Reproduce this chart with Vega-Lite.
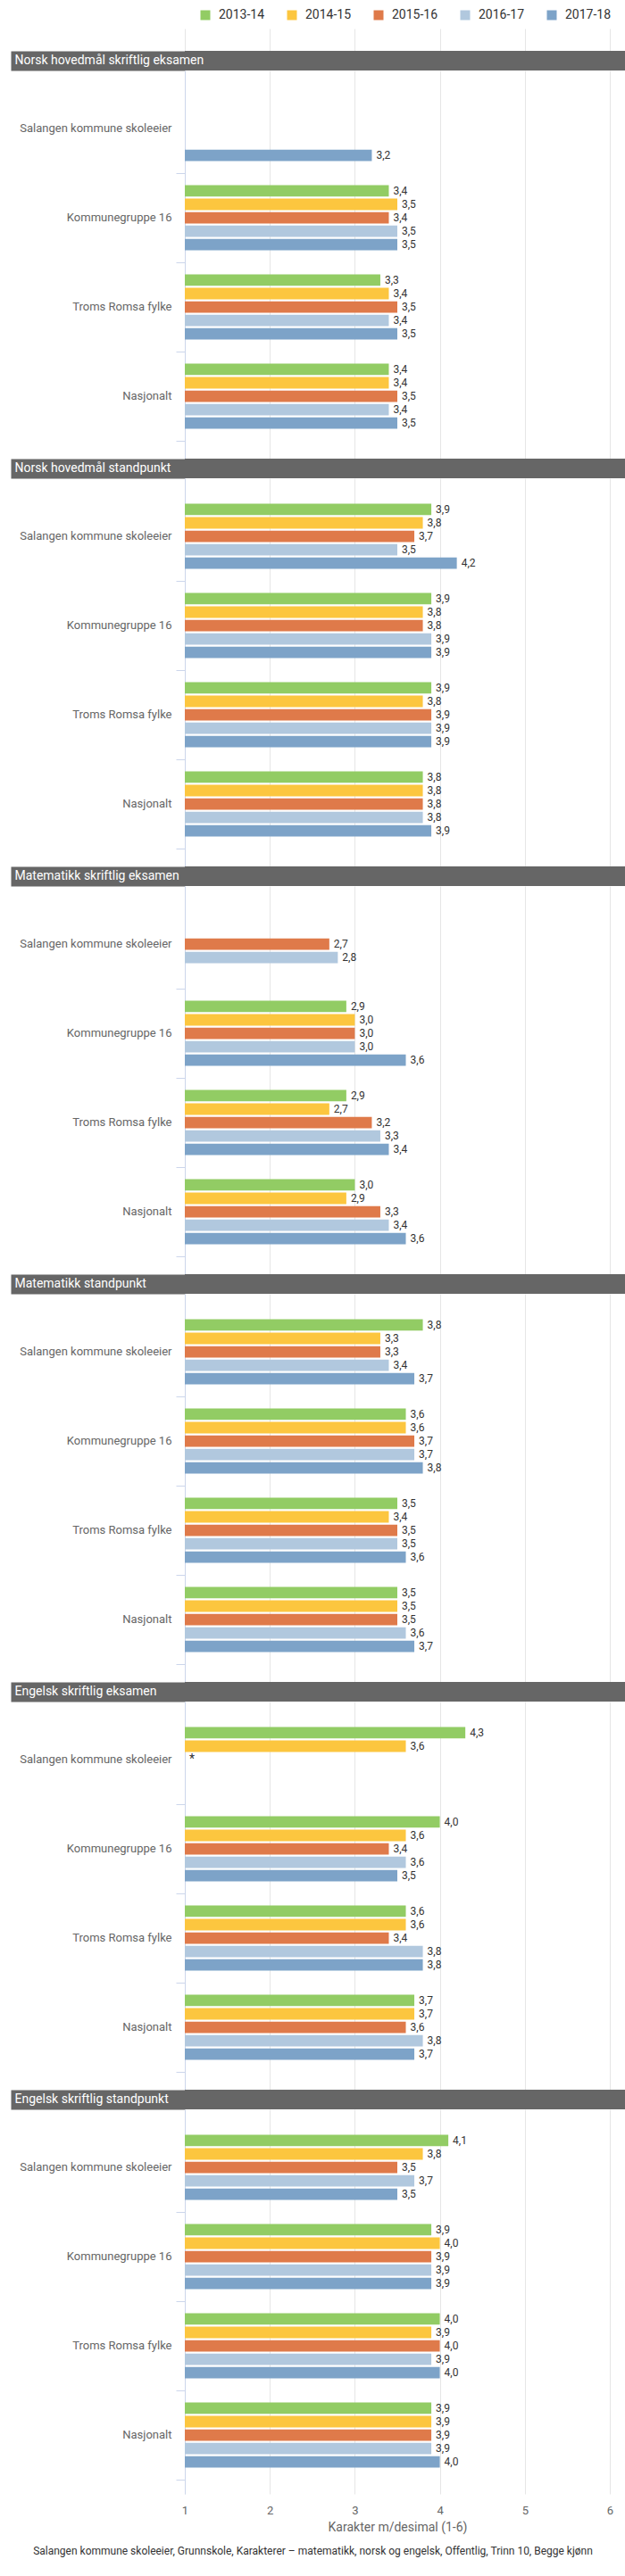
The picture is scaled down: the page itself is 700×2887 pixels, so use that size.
{
  "$schema": "https://vega.github.io/schema/vega-lite/v6.json",
  "padding": {"left": 1, "top": 10, "right": 0, "bottom": 8},
  "spacing": 0,
  "datasets": {
    "grades": [
      {"section": "Norsk hovedmål skriftlig eksamen", "group": "Salangen kommune skoleeier", "year": "2017-18", "value": 3.2},
      {"section": "Norsk hovedmål skriftlig eksamen", "group": "Kommunegruppe 16", "year": "2013-14", "value": 3.4},
      {"section": "Norsk hovedmål skriftlig eksamen", "group": "Kommunegruppe 16", "year": "2014-15", "value": 3.5},
      {"section": "Norsk hovedmål skriftlig eksamen", "group": "Kommunegruppe 16", "year": "2015-16", "value": 3.4},
      {"section": "Norsk hovedmål skriftlig eksamen", "group": "Kommunegruppe 16", "year": "2016-17", "value": 3.5},
      {"section": "Norsk hovedmål skriftlig eksamen", "group": "Kommunegruppe 16", "year": "2017-18", "value": 3.5},
      {"section": "Norsk hovedmål skriftlig eksamen", "group": "Troms Romsa fylke", "year": "2013-14", "value": 3.3},
      {"section": "Norsk hovedmål skriftlig eksamen", "group": "Troms Romsa fylke", "year": "2014-15", "value": 3.4},
      {"section": "Norsk hovedmål skriftlig eksamen", "group": "Troms Romsa fylke", "year": "2015-16", "value": 3.5},
      {"section": "Norsk hovedmål skriftlig eksamen", "group": "Troms Romsa fylke", "year": "2016-17", "value": 3.4},
      {"section": "Norsk hovedmål skriftlig eksamen", "group": "Troms Romsa fylke", "year": "2017-18", "value": 3.5},
      {"section": "Norsk hovedmål skriftlig eksamen", "group": "Nasjonalt", "year": "2013-14", "value": 3.4},
      {"section": "Norsk hovedmål skriftlig eksamen", "group": "Nasjonalt", "year": "2014-15", "value": 3.4},
      {"section": "Norsk hovedmål skriftlig eksamen", "group": "Nasjonalt", "year": "2015-16", "value": 3.5},
      {"section": "Norsk hovedmål skriftlig eksamen", "group": "Nasjonalt", "year": "2016-17", "value": 3.4},
      {"section": "Norsk hovedmål skriftlig eksamen", "group": "Nasjonalt", "year": "2017-18", "value": 3.5},

      {"section": "Norsk hovedmål standpunkt", "group": "Salangen kommune skoleeier", "year": "2013-14", "value": 3.9},
      {"section": "Norsk hovedmål standpunkt", "group": "Salangen kommune skoleeier", "year": "2014-15", "value": 3.8},
      {"section": "Norsk hovedmål standpunkt", "group": "Salangen kommune skoleeier", "year": "2015-16", "value": 3.7},
      {"section": "Norsk hovedmål standpunkt", "group": "Salangen kommune skoleeier", "year": "2016-17", "value": 3.5},
      {"section": "Norsk hovedmål standpunkt", "group": "Salangen kommune skoleeier", "year": "2017-18", "value": 4.2},
      {"section": "Norsk hovedmål standpunkt", "group": "Kommunegruppe 16", "year": "2013-14", "value": 3.9},
      {"section": "Norsk hovedmål standpunkt", "group": "Kommunegruppe 16", "year": "2014-15", "value": 3.8},
      {"section": "Norsk hovedmål standpunkt", "group": "Kommunegruppe 16", "year": "2015-16", "value": 3.8},
      {"section": "Norsk hovedmål standpunkt", "group": "Kommunegruppe 16", "year": "2016-17", "value": 3.9},
      {"section": "Norsk hovedmål standpunkt", "group": "Kommunegruppe 16", "year": "2017-18", "value": 3.9},
      {"section": "Norsk hovedmål standpunkt", "group": "Troms Romsa fylke", "year": "2013-14", "value": 3.9},
      {"section": "Norsk hovedmål standpunkt", "group": "Troms Romsa fylke", "year": "2014-15", "value": 3.8},
      {"section": "Norsk hovedmål standpunkt", "group": "Troms Romsa fylke", "year": "2015-16", "value": 3.9},
      {"section": "Norsk hovedmål standpunkt", "group": "Troms Romsa fylke", "year": "2016-17", "value": 3.9},
      {"section": "Norsk hovedmål standpunkt", "group": "Troms Romsa fylke", "year": "2017-18", "value": 3.9},
      {"section": "Norsk hovedmål standpunkt", "group": "Nasjonalt", "year": "2013-14", "value": 3.8},
      {"section": "Norsk hovedmål standpunkt", "group": "Nasjonalt", "year": "2014-15", "value": 3.8},
      {"section": "Norsk hovedmål standpunkt", "group": "Nasjonalt", "year": "2015-16", "value": 3.8},
      {"section": "Norsk hovedmål standpunkt", "group": "Nasjonalt", "year": "2016-17", "value": 3.8},
      {"section": "Norsk hovedmål standpunkt", "group": "Nasjonalt", "year": "2017-18", "value": 3.9},

      {"section": "Matematikk skriftlig eksamen", "group": "Salangen kommune skoleeier", "year": "2015-16", "value": 2.7},
      {"section": "Matematikk skriftlig eksamen", "group": "Salangen kommune skoleeier", "year": "2016-17", "value": 2.8},
      {"section": "Matematikk skriftlig eksamen", "group": "Kommunegruppe 16", "year": "2013-14", "value": 2.9},
      {"section": "Matematikk skriftlig eksamen", "group": "Kommunegruppe 16", "year": "2014-15", "value": 3.0},
      {"section": "Matematikk skriftlig eksamen", "group": "Kommunegruppe 16", "year": "2015-16", "value": 3.0},
      {"section": "Matematikk skriftlig eksamen", "group": "Kommunegruppe 16", "year": "2016-17", "value": 3.0},
      {"section": "Matematikk skriftlig eksamen", "group": "Kommunegruppe 16", "year": "2017-18", "value": 3.6},
      {"section": "Matematikk skriftlig eksamen", "group": "Troms Romsa fylke", "year": "2013-14", "value": 2.9},
      {"section": "Matematikk skriftlig eksamen", "group": "Troms Romsa fylke", "year": "2014-15", "value": 2.7},
      {"section": "Matematikk skriftlig eksamen", "group": "Troms Romsa fylke", "year": "2015-16", "value": 3.2},
      {"section": "Matematikk skriftlig eksamen", "group": "Troms Romsa fylke", "year": "2016-17", "value": 3.3},
      {"section": "Matematikk skriftlig eksamen", "group": "Troms Romsa fylke", "year": "2017-18", "value": 3.4},
      {"section": "Matematikk skriftlig eksamen", "group": "Nasjonalt", "year": "2013-14", "value": 3.0},
      {"section": "Matematikk skriftlig eksamen", "group": "Nasjonalt", "year": "2014-15", "value": 2.9},
      {"section": "Matematikk skriftlig eksamen", "group": "Nasjonalt", "year": "2015-16", "value": 3.3},
      {"section": "Matematikk skriftlig eksamen", "group": "Nasjonalt", "year": "2016-17", "value": 3.4},
      {"section": "Matematikk skriftlig eksamen", "group": "Nasjonalt", "year": "2017-18", "value": 3.6},

      {"section": "Matematikk standpunkt", "group": "Salangen kommune skoleeier", "year": "2013-14", "value": 3.8},
      {"section": "Matematikk standpunkt", "group": "Salangen kommune skoleeier", "year": "2014-15", "value": 3.3},
      {"section": "Matematikk standpunkt", "group": "Salangen kommune skoleeier", "year": "2015-16", "value": 3.3},
      {"section": "Matematikk standpunkt", "group": "Salangen kommune skoleeier", "year": "2016-17", "value": 3.4},
      {"section": "Matematikk standpunkt", "group": "Salangen kommune skoleeier", "year": "2017-18", "value": 3.7},
      {"section": "Matematikk standpunkt", "group": "Kommunegruppe 16", "year": "2013-14", "value": 3.6},
      {"section": "Matematikk standpunkt", "group": "Kommunegruppe 16", "year": "2014-15", "value": 3.6},
      {"section": "Matematikk standpunkt", "group": "Kommunegruppe 16", "year": "2015-16", "value": 3.7},
      {"section": "Matematikk standpunkt", "group": "Kommunegruppe 16", "year": "2016-17", "value": 3.7},
      {"section": "Matematikk standpunkt", "group": "Kommunegruppe 16", "year": "2017-18", "value": 3.8},
      {"section": "Matematikk standpunkt", "group": "Troms Romsa fylke", "year": "2013-14", "value": 3.5},
      {"section": "Matematikk standpunkt", "group": "Troms Romsa fylke", "year": "2014-15", "value": 3.4},
      {"section": "Matematikk standpunkt", "group": "Troms Romsa fylke", "year": "2015-16", "value": 3.5},
      {"section": "Matematikk standpunkt", "group": "Troms Romsa fylke", "year": "2016-17", "value": 3.5},
      {"section": "Matematikk standpunkt", "group": "Troms Romsa fylke", "year": "2017-18", "value": 3.6},
      {"section": "Matematikk standpunkt", "group": "Nasjonalt", "year": "2013-14", "value": 3.5},
      {"section": "Matematikk standpunkt", "group": "Nasjonalt", "year": "2014-15", "value": 3.5},
      {"section": "Matematikk standpunkt", "group": "Nasjonalt", "year": "2015-16", "value": 3.5},
      {"section": "Matematikk standpunkt", "group": "Nasjonalt", "year": "2016-17", "value": 3.6},
      {"section": "Matematikk standpunkt", "group": "Nasjonalt", "year": "2017-18", "value": 3.7},

      {"section": "Engelsk skriftlig eksamen", "group": "Salangen kommune skoleeier", "year": "2013-14", "value": 4.3},
      {"section": "Engelsk skriftlig eksamen", "group": "Salangen kommune skoleeier", "year": "2014-15", "value": 3.6},
      {"section": "Engelsk skriftlig eksamen", "group": "Salangen kommune skoleeier", "year": "2015-16", "value": null, "note": "*"},
      {"section": "Engelsk skriftlig eksamen", "group": "Kommunegruppe 16", "year": "2013-14", "value": 4.0},
      {"section": "Engelsk skriftlig eksamen", "group": "Kommunegruppe 16", "year": "2014-15", "value": 3.6},
      {"section": "Engelsk skriftlig eksamen", "group": "Kommunegruppe 16", "year": "2015-16", "value": 3.4},
      {"section": "Engelsk skriftlig eksamen", "group": "Kommunegruppe 16", "year": "2016-17", "value": 3.6},
      {"section": "Engelsk skriftlig eksamen", "group": "Kommunegruppe 16", "year": "2017-18", "value": 3.5},
      {"section": "Engelsk skriftlig eksamen", "group": "Troms Romsa fylke", "year": "2013-14", "value": 3.6},
      {"section": "Engelsk skriftlig eksamen", "group": "Troms Romsa fylke", "year": "2014-15", "value": 3.6},
      {"section": "Engelsk skriftlig eksamen", "group": "Troms Romsa fylke", "year": "2015-16", "value": 3.4},
      {"section": "Engelsk skriftlig eksamen", "group": "Troms Romsa fylke", "year": "2016-17", "value": 3.8},
      {"section": "Engelsk skriftlig eksamen", "group": "Troms Romsa fylke", "year": "2017-18", "value": 3.8},
      {"section": "Engelsk skriftlig eksamen", "group": "Nasjonalt", "year": "2013-14", "value": 3.7},
      {"section": "Engelsk skriftlig eksamen", "group": "Nasjonalt", "year": "2014-15", "value": 3.7},
      {"section": "Engelsk skriftlig eksamen", "group": "Nasjonalt", "year": "2015-16", "value": 3.6},
      {"section": "Engelsk skriftlig eksamen", "group": "Nasjonalt", "year": "2016-17", "value": 3.8},
      {"section": "Engelsk skriftlig eksamen", "group": "Nasjonalt", "year": "2017-18", "value": 3.7},

      {"section": "Engelsk skriftlig standpunkt", "group": "Salangen kommune skoleeier", "year": "2013-14", "value": 4.1},
      {"section": "Engelsk skriftlig standpunkt", "group": "Salangen kommune skoleeier", "year": "2014-15", "value": 3.8},
      {"section": "Engelsk skriftlig standpunkt", "group": "Salangen kommune skoleeier", "year": "2015-16", "value": 3.5},
      {"section": "Engelsk skriftlig standpunkt", "group": "Salangen kommune skoleeier", "year": "2016-17", "value": 3.7},
      {"section": "Engelsk skriftlig standpunkt", "group": "Salangen kommune skoleeier", "year": "2017-18", "value": 3.5},
      {"section": "Engelsk skriftlig standpunkt", "group": "Kommunegruppe 16", "year": "2013-14", "value": 3.9},
      {"section": "Engelsk skriftlig standpunkt", "group": "Kommunegruppe 16", "year": "2014-15", "value": 4.0},
      {"section": "Engelsk skriftlig standpunkt", "group": "Kommunegruppe 16", "year": "2015-16", "value": 3.9},
      {"section": "Engelsk skriftlig standpunkt", "group": "Kommunegruppe 16", "year": "2016-17", "value": 3.9},
      {"section": "Engelsk skriftlig standpunkt", "group": "Kommunegruppe 16", "year": "2017-18", "value": 3.9},
      {"section": "Engelsk skriftlig standpunkt", "group": "Troms Romsa fylke", "year": "2013-14", "value": 4.0},
      {"section": "Engelsk skriftlig standpunkt", "group": "Troms Romsa fylke", "year": "2014-15", "value": 3.9},
      {"section": "Engelsk skriftlig standpunkt", "group": "Troms Romsa fylke", "year": "2015-16", "value": 4.0},
      {"section": "Engelsk skriftlig standpunkt", "group": "Troms Romsa fylke", "year": "2016-17", "value": 3.9},
      {"section": "Engelsk skriftlig standpunkt", "group": "Troms Romsa fylke", "year": "2017-18", "value": 4.0},
      {"section": "Engelsk skriftlig standpunkt", "group": "Nasjonalt", "year": "2013-14", "value": 3.9},
      {"section": "Engelsk skriftlig standpunkt", "group": "Nasjonalt", "year": "2014-15", "value": 3.9},
      {"section": "Engelsk skriftlig standpunkt", "group": "Nasjonalt", "year": "2015-16", "value": 3.9},
      {"section": "Engelsk skriftlig standpunkt", "group": "Nasjonalt", "year": "2016-17", "value": 3.9},
      {"section": "Engelsk skriftlig standpunkt", "group": "Nasjonalt", "year": "2017-18", "value": 4.0}
    ]
  },
  "title": {
    "text": "Salangen kommune skoleeier, Grunnskole, Karakterer – matematikk, norsk og engelsk, Offentlig, Trinn 10, Begge kjønn",
    "orient": "bottom", "anchor": "middle", "frame": "bounds",
    "fontSize": 12, "fontWeight": "normal", "color": "#333333", "offset": 15
  },
  "vconcat": [
    {
      "height": 25, "width": 476,
      "data": {"values": [{"g": "grid"}]},
      "mark": {"type": "rule", "opacity": 0},
      "encoding": {
        "x": {"datum": 1, "type": "quantitative", "scale": {"domain": [1, 6], "zero": false, "nice": false},
              "axis": {"grid": true, "gridColor": "#e6e6e6", "labels": false, "ticks": false, "domain": false, "title": null, "values": [1, 2, 3, 4, 5, 6]}}
      }
    },
    {
      "height": 22, "width": 493,
      "data": {"values": [{"section": "Norsk hovedmål skriftlig eksamen"}]},
      "mark": {"type": "rect", "fill": "#666666"},
      "encoding": {"y": {"field": "section", "type": "nominal", "scale": {"paddingInner": 0, "paddingOuter": 0},
        "axis": {"title": null, "domain": false, "ticks": true, "tickSize": 195, "tickWidth": 22, "tickColor": "#666666", "tickCap": "butt", "labelAlign": "left", "labelPadding": -4, "labelColor": "#ffffff", "labelFontSize": 14, "labelLimit": 600, "zindex": 1}}}
    },
    {
      "height": 435, "width": 476,
      "data": {"name": "grades"},
      "transform": [{"filter": {"field": "section", "equal": "Norsk hovedmål skriftlig eksamen"}}],
      "encoding": {
        "y": {"field": "group", "type": "nominal", "sort": ["Salangen kommune skoleeier", "Kommunegruppe 16", "Troms Romsa fylke", "Nasjonalt"],
              "scale": {"domain": ["Salangen kommune skoleeier", "Kommunegruppe 16", "Troms Romsa fylke", "Nasjonalt"], "paddingInner": 0, "paddingOuter": 0.175, "align": 0.4286},
              "axis": {"title": null, "labelFontSize": 13, "labelColor": "#666666", "labelPadding": 5, "tickSize": 10, "tickColor": "#ccd6eb", "domainColor": "#ccd6eb", "bandPosition": 1, "tickExtra": false, "labelLimit": 185}},
        "yOffset": {"field": "year", "type": "nominal", "scale": {"domain": ["2013-14", "2014-15", "2015-16", "2016-17", "2017-18"], "paddingInner": 0.15, "paddingOuter": 0.908}}
      },
      "layer": [
        {
          "transform": [{"filter": "isValid(datum.value)"}],
          "mark": {"type": "bar"},
          "encoding": {
            "x": {"field": "value", "type": "quantitative", "scale": {"domain": [1, 6], "zero": false, "nice": false},
                  "axis": {"grid": true, "gridColor": "#e6e6e6", "labels": false, "ticks": false, "domain": false, "title": null, "values": [1, 2, 3, 4, 5, 6]}},
            "x2": {"datum": 1},
            "color": {"field": "year", "type": "nominal",
                      "scale": {"domain": ["2013-14", "2014-15", "2015-16", "2016-17", "2017-18"], "range": ["#92CC64", "#FCC63F", "#DF7A4A", "#B1C8DE", "#7DA3C8"]},
                      "legend": {"orient": "none", "legendX": 16, "legendY": -22, "direction": "horizontal", "title": null, "symbolType": "square", "symbolSize": 121, "symbolStrokeWidth": 0, "labelFontSize": 14, "labelColor": "#333333", "labelOffset": 8, "columnPadding": 23, "padding": 0}}
          }
        },
        {
          "transform": [{"filter": "isValid(datum.value)"}],
          "mark": {"type": "text", "align": "left", "baseline": "middle", "dx": 5, "fontSize": 12, "color": "#333333"},
          "encoding": {"x": {"field": "value", "type": "quantitative"}, "text": {"field": "value", "type": "quantitative", "format": ".1f"}}
        }
      ]
    },
    {
      "height": 22, "width": 493,
      "data": {"values": [{"section": "Norsk hovedmål standpunkt"}]},
      "mark": {"type": "rect", "fill": "#666666"},
      "encoding": {"y": {"field": "section", "type": "nominal", "scale": {"paddingInner": 0, "paddingOuter": 0},
        "axis": {"title": null, "domain": false, "ticks": true, "tickSize": 195, "tickWidth": 22, "tickColor": "#666666", "tickCap": "butt", "labelAlign": "left", "labelPadding": -4, "labelColor": "#ffffff", "labelFontSize": 14, "labelLimit": 600, "zindex": 1}}}
    },
    {
      "height": 435, "width": 476,
      "data": {"name": "grades"},
      "transform": [{"filter": {"field": "section", "equal": "Norsk hovedmål standpunkt"}}],
      "encoding": {
        "y": {"field": "group", "type": "nominal", "sort": ["Salangen kommune skoleeier", "Kommunegruppe 16", "Troms Romsa fylke", "Nasjonalt"],
              "scale": {"domain": ["Salangen kommune skoleeier", "Kommunegruppe 16", "Troms Romsa fylke", "Nasjonalt"], "paddingInner": 0, "paddingOuter": 0.175, "align": 0.4286},
              "axis": {"title": null, "labelFontSize": 13, "labelColor": "#666666", "labelPadding": 5, "tickSize": 10, "tickColor": "#ccd6eb", "domainColor": "#ccd6eb", "bandPosition": 1, "tickExtra": false, "labelLimit": 185}},
        "yOffset": {"field": "year", "type": "nominal", "scale": {"domain": ["2013-14", "2014-15", "2015-16", "2016-17", "2017-18"], "paddingInner": 0.15, "paddingOuter": 0.908}}
      },
      "layer": [
        {
          "transform": [{"filter": "isValid(datum.value)"}],
          "mark": {"type": "bar"},
          "encoding": {
            "x": {"field": "value", "type": "quantitative", "scale": {"domain": [1, 6], "zero": false, "nice": false},
                  "axis": {"grid": true, "gridColor": "#e6e6e6", "labels": false, "ticks": false, "domain": false, "title": null, "values": [1, 2, 3, 4, 5, 6]}},
            "x2": {"datum": 1},
            "color": {"field": "year", "type": "nominal"}
          }
        },
        {
          "transform": [{"filter": "isValid(datum.value)"}],
          "mark": {"type": "text", "align": "left", "baseline": "middle", "dx": 5, "fontSize": 12, "color": "#333333"},
          "encoding": {"x": {"field": "value", "type": "quantitative"}, "text": {"field": "value", "type": "quantitative", "format": ".1f"}}
        }
      ]
    },
    {
      "height": 22, "width": 493,
      "data": {"values": [{"section": "Matematikk skriftlig eksamen"}]},
      "mark": {"type": "rect", "fill": "#666666"},
      "encoding": {"y": {"field": "section", "type": "nominal", "scale": {"paddingInner": 0, "paddingOuter": 0},
        "axis": {"title": null, "domain": false, "ticks": true, "tickSize": 195, "tickWidth": 22, "tickColor": "#666666", "tickCap": "butt", "labelAlign": "left", "labelPadding": -4, "labelColor": "#ffffff", "labelFontSize": 14, "labelLimit": 600, "zindex": 1}}}
    },
    {
      "height": 435, "width": 476,
      "data": {"name": "grades"},
      "transform": [{"filter": {"field": "section", "equal": "Matematikk skriftlig eksamen"}}],
      "encoding": {
        "y": {"field": "group", "type": "nominal", "sort": ["Salangen kommune skoleeier", "Kommunegruppe 16", "Troms Romsa fylke", "Nasjonalt"],
              "scale": {"domain": ["Salangen kommune skoleeier", "Kommunegruppe 16", "Troms Romsa fylke", "Nasjonalt"], "paddingInner": 0, "paddingOuter": 0.175, "align": 0.4286},
              "axis": {"title": null, "labelFontSize": 13, "labelColor": "#666666", "labelPadding": 5, "tickSize": 10, "tickColor": "#ccd6eb", "domainColor": "#ccd6eb", "bandPosition": 1, "tickExtra": false, "labelLimit": 185}},
        "yOffset": {"field": "year", "type": "nominal", "scale": {"domain": ["2013-14", "2014-15", "2015-16", "2016-17", "2017-18"], "paddingInner": 0.15, "paddingOuter": 0.908}}
      },
      "layer": [
        {
          "transform": [{"filter": "isValid(datum.value)"}],
          "mark": {"type": "bar"},
          "encoding": {
            "x": {"field": "value", "type": "quantitative", "scale": {"domain": [1, 6], "zero": false, "nice": false},
                  "axis": {"grid": true, "gridColor": "#e6e6e6", "labels": false, "ticks": false, "domain": false, "title": null, "values": [1, 2, 3, 4, 5, 6]}},
            "x2": {"datum": 1},
            "color": {"field": "year", "type": "nominal"}
          }
        },
        {
          "transform": [{"filter": "isValid(datum.value)"}],
          "mark": {"type": "text", "align": "left", "baseline": "middle", "dx": 5, "fontSize": 12, "color": "#333333"},
          "encoding": {"x": {"field": "value", "type": "quantitative"}, "text": {"field": "value", "type": "quantitative", "format": ".1f"}}
        }
      ]
    },
    {
      "height": 22, "width": 493,
      "data": {"values": [{"section": "Matematikk standpunkt"}]},
      "mark": {"type": "rect", "fill": "#666666"},
      "encoding": {"y": {"field": "section", "type": "nominal", "scale": {"paddingInner": 0, "paddingOuter": 0},
        "axis": {"title": null, "domain": false, "ticks": true, "tickSize": 195, "tickWidth": 22, "tickColor": "#666666", "tickCap": "butt", "labelAlign": "left", "labelPadding": -4, "labelColor": "#ffffff", "labelFontSize": 14, "labelLimit": 600, "zindex": 1}}}
    },
    {
      "height": 435, "width": 476,
      "data": {"name": "grades"},
      "transform": [{"filter": {"field": "section", "equal": "Matematikk standpunkt"}}],
      "encoding": {
        "y": {"field": "group", "type": "nominal", "sort": ["Salangen kommune skoleeier", "Kommunegruppe 16", "Troms Romsa fylke", "Nasjonalt"],
              "scale": {"domain": ["Salangen kommune skoleeier", "Kommunegruppe 16", "Troms Romsa fylke", "Nasjonalt"], "paddingInner": 0, "paddingOuter": 0.175, "align": 0.4286},
              "axis": {"title": null, "labelFontSize": 13, "labelColor": "#666666", "labelPadding": 5, "tickSize": 10, "tickColor": "#ccd6eb", "domainColor": "#ccd6eb", "bandPosition": 1, "tickExtra": false, "labelLimit": 185}},
        "yOffset": {"field": "year", "type": "nominal", "scale": {"domain": ["2013-14", "2014-15", "2015-16", "2016-17", "2017-18"], "paddingInner": 0.15, "paddingOuter": 0.908}}
      },
      "layer": [
        {
          "transform": [{"filter": "isValid(datum.value)"}],
          "mark": {"type": "bar"},
          "encoding": {
            "x": {"field": "value", "type": "quantitative", "scale": {"domain": [1, 6], "zero": false, "nice": false},
                  "axis": {"grid": true, "gridColor": "#e6e6e6", "labels": false, "ticks": false, "domain": false, "title": null, "values": [1, 2, 3, 4, 5, 6]}},
            "x2": {"datum": 1},
            "color": {"field": "year", "type": "nominal"}
          }
        },
        {
          "transform": [{"filter": "isValid(datum.value)"}],
          "mark": {"type": "text", "align": "left", "baseline": "middle", "dx": 5, "fontSize": 12, "color": "#333333"},
          "encoding": {"x": {"field": "value", "type": "quantitative"}, "text": {"field": "value", "type": "quantitative", "format": ".1f"}}
        }
      ]
    },
    {
      "height": 22, "width": 493,
      "data": {"values": [{"section": "Engelsk skriftlig eksamen"}]},
      "mark": {"type": "rect", "fill": "#666666"},
      "encoding": {"y": {"field": "section", "type": "nominal", "scale": {"paddingInner": 0, "paddingOuter": 0},
        "axis": {"title": null, "domain": false, "ticks": true, "tickSize": 195, "tickWidth": 22, "tickColor": "#666666", "tickCap": "butt", "labelAlign": "left", "labelPadding": -4, "labelColor": "#ffffff", "labelFontSize": 14, "labelLimit": 600, "zindex": 1}}}
    },
    {
      "height": 435, "width": 476,
      "data": {"name": "grades"},
      "transform": [{"filter": {"field": "section", "equal": "Engelsk skriftlig eksamen"}}],
      "encoding": {
        "y": {"field": "group", "type": "nominal", "sort": ["Salangen kommune skoleeier", "Kommunegruppe 16", "Troms Romsa fylke", "Nasjonalt"],
              "scale": {"domain": ["Salangen kommune skoleeier", "Kommunegruppe 16", "Troms Romsa fylke", "Nasjonalt"], "paddingInner": 0, "paddingOuter": 0.175, "align": 0.4286},
              "axis": {"title": null, "labelFontSize": 13, "labelColor": "#666666", "labelPadding": 5, "tickSize": 10, "tickColor": "#ccd6eb", "domainColor": "#ccd6eb", "bandPosition": 1, "tickExtra": false, "labelLimit": 185}},
        "yOffset": {"field": "year", "type": "nominal", "scale": {"domain": ["2013-14", "2014-15", "2015-16", "2016-17", "2017-18"], "paddingInner": 0.15, "paddingOuter": 0.908}}
      },
      "layer": [
        {
          "transform": [{"filter": "isValid(datum.value)"}],
          "mark": {"type": "bar"},
          "encoding": {
            "x": {"field": "value", "type": "quantitative", "scale": {"domain": [1, 6], "zero": false, "nice": false},
                  "axis": {"grid": true, "gridColor": "#e6e6e6", "labels": false, "ticks": false, "domain": false, "title": null, "values": [1, 2, 3, 4, 5, 6]}},
            "x2": {"datum": 1},
            "color": {"field": "year", "type": "nominal"}
          }
        },
        {
          "transform": [{"filter": "isValid(datum.value)"}],
          "mark": {"type": "text", "align": "left", "baseline": "middle", "dx": 5, "fontSize": 12, "color": "#333333"},
          "encoding": {"x": {"field": "value", "type": "quantitative"}, "text": {"field": "value", "type": "quantitative", "format": ".1f"}}
        },
        {
          "transform": [{"filter": "isValid(datum.note)"}],
          "mark": {"type": "text", "align": "left", "baseline": "middle", "dx": 5, "fontSize": 14, "color": "#333333"},
          "encoding": {"x": {"datum": 1, "type": "quantitative"}, "text": {"field": "note", "type": "nominal"}}
        }
      ]
    },
    {
      "height": 22, "width": 493,
      "data": {"values": [{"section": "Engelsk skriftlig standpunkt"}]},
      "mark": {"type": "rect", "fill": "#666666"},
      "encoding": {"y": {"field": "section", "type": "nominal", "scale": {"paddingInner": 0, "paddingOuter": 0},
        "axis": {"title": null, "domain": false, "ticks": true, "tickSize": 195, "tickWidth": 22, "tickColor": "#666666", "tickCap": "butt", "labelAlign": "left", "labelPadding": -4, "labelColor": "#ffffff", "labelFontSize": 14, "labelLimit": 600, "zindex": 1}}}
    },
    {
      "height": 431, "width": 476,
      "data": {"name": "grades"},
      "transform": [{"filter": {"field": "section", "equal": "Engelsk skriftlig standpunkt"}}],
      "encoding": {
        "y": {"field": "group", "type": "nominal", "sort": ["Salangen kommune skoleeier", "Kommunegruppe 16", "Troms Romsa fylke", "Nasjonalt"],
              "scale": {"domain": ["Salangen kommune skoleeier", "Kommunegruppe 16", "Troms Romsa fylke", "Nasjonalt"], "paddingInner": 0, "paddingOuter": 0.155, "align": 0.4839},
              "axis": {"title": null, "labelFontSize": 13, "labelColor": "#666666", "labelPadding": 5, "tickSize": 10, "tickColor": "#ccd6eb", "domainColor": "#ccd6eb", "bandPosition": 1, "tickExtra": false, "labelLimit": 185}},
        "yOffset": {"field": "year", "type": "nominal", "scale": {"domain": ["2013-14", "2014-15", "2015-16", "2016-17", "2017-18"], "paddingInner": 0.15, "paddingOuter": 0.908}}
      },
      "layer": [
        {
          "transform": [{"filter": "isValid(datum.value)"}],
          "mark": {"type": "bar"},
          "encoding": {
            "x": {"field": "value", "type": "quantitative", "scale": {"domain": [1, 6], "zero": false, "nice": false},
                  "axis": {"grid": true, "gridColor": "#e6e6e6", "labels": true, "format": "d", "labelFlush": false, "labelFontSize": 13, "labelColor": "#666666", "labelPadding": 12, "ticks": false, "domain": false, "values": [1, 2, 3, 4, 5, 6],
                           "title": "Karakter m/desimal (1-6)", "titleFontSize": 14, "titleFontWeight": "normal", "titleColor": "#666666", "titlePadding": 5}},
            "x2": {"datum": 1},
            "color": {"field": "year", "type": "nominal"}
          }
        },
        {
          "transform": [{"filter": "isValid(datum.value)"}],
          "mark": {"type": "text", "align": "left", "baseline": "middle", "dx": 5, "fontSize": 12, "color": "#333333"},
          "encoding": {"x": {"field": "value", "type": "quantitative"}, "text": {"field": "value", "type": "quantitative", "format": ".1f"}}
        }
      ]
    }
  ],
  "config": {
    "font": "Roboto",
    "view": {"stroke": null},
    "locale": {"number": {"decimal": ",", "thousands": " ", "grouping": [3], "currency": ["", " kr"]}}
  }
}
